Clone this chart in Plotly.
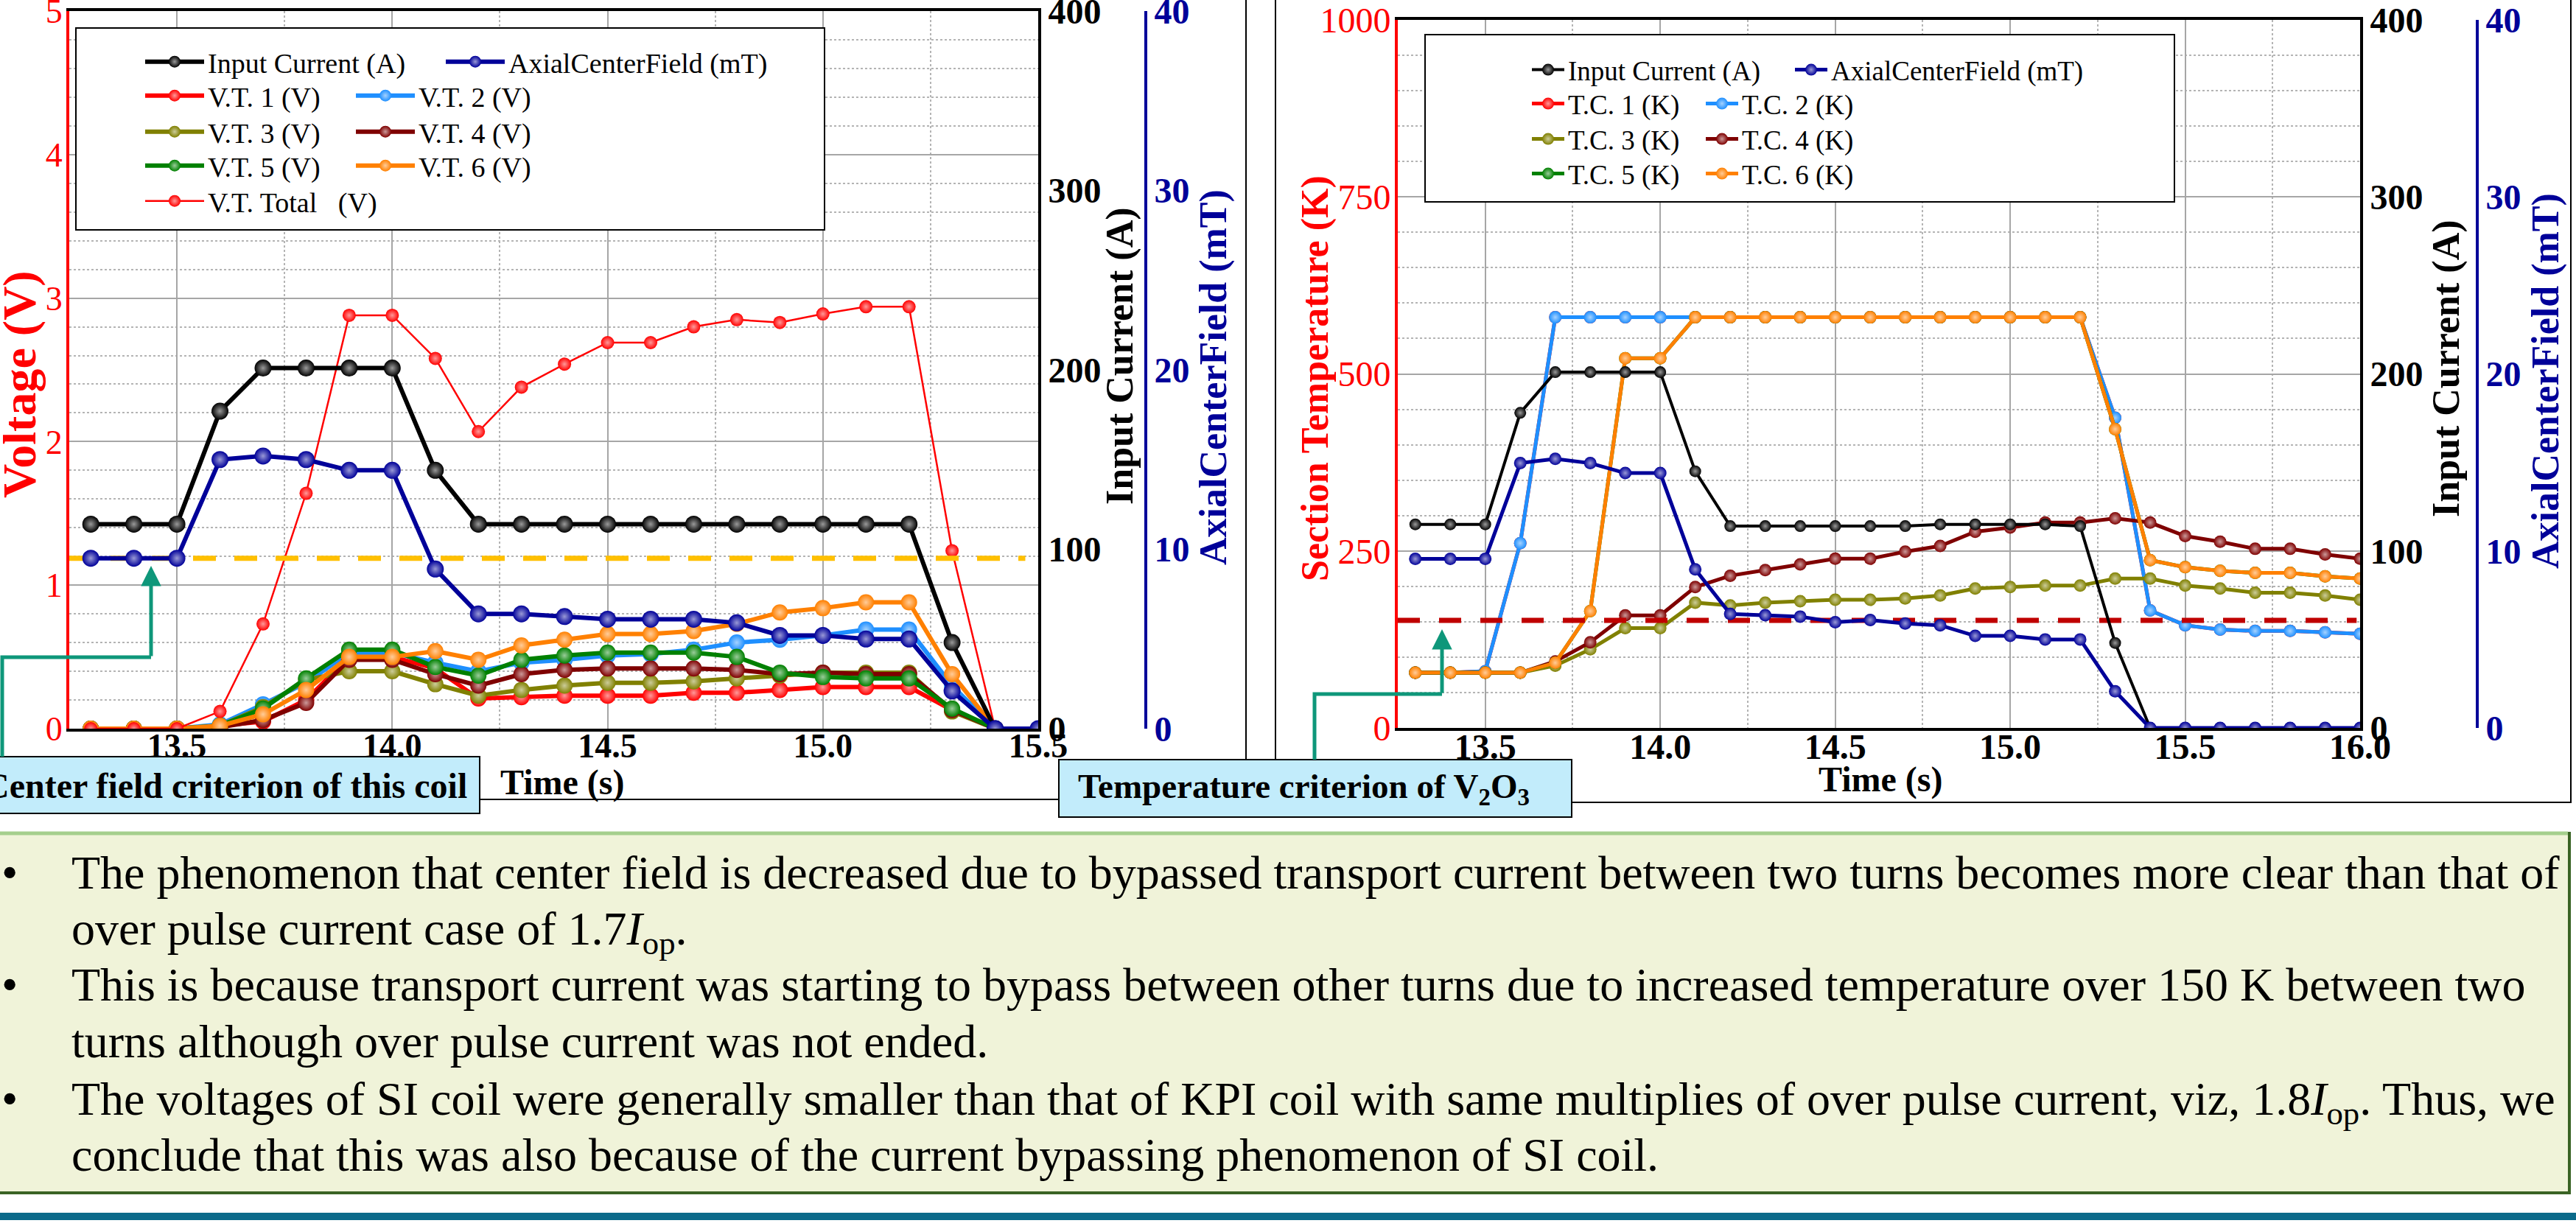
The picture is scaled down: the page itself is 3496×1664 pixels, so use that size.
import plotly.graph_objects as go

W, H = 3496, 1664
def PX(x): return x / W
def PY(y): return 1 - y / H

SERIF = "Liberation Serif"

# ---------------- data: left chart (voltage taps, SI coil) ----------------
time_left = [13.3, 13.4, 13.5, 13.6, 13.7, 13.8, 13.9, 14.0, 14.1, 14.2, 14.3,
             14.4, 14.5, 14.6, 14.7, 14.8, 14.9, 15.0, 15.1, 15.2, 15.3, 15.4]
time_left_field = [13.3, 13.4, 13.5, 13.6, 13.7, 13.8, 13.9, 14.0, 14.1, 14.2, 14.3,
                   14.4, 14.5, 14.6, 14.7, 14.8, 14.9, 15.0, 15.1, 15.2, 15.3, 15.4, 15.5]
current_left = [114, 114, 114, 177, 201, 201, 201, 201, 144, 114, 114,
                114, 114, 114, 114, 114, 114, 114, 114, 114, 48, 0]
field_left = [9.5, 9.5, 9.5, 15.0, 15.2, 15.0, 14.4, 14.4, 8.9, 6.4, 6.4,
              6.25, 6.1, 6.1, 6.1, 5.9, 5.2, 5.2, 5.0, 5.0, 2.1, 0, 0]
vt1 = [0, 0, 0, 0.02, 0.05, 0.2, 0.5, 0.5, 0.42, 0.21, 0.22,
       0.23, 0.23, 0.23, 0.25, 0.25, 0.27, 0.29, 0.29, 0.29, 0.13, 0]
vt2 = [0, 0, 0, 0.03, 0.17, 0.32, 0.53, 0.53, 0.46, 0.40, 0.46,
       0.48, 0.51, 0.52, 0.55, 0.60, 0.62, 0.65, 0.69, 0.69, 0.30, 0]
vt3 = [0, 0, 0, 0.02, 0.15, 0.34, 0.40, 0.40, 0.31, 0.23, 0.27,
       0.30, 0.32, 0.32, 0.33, 0.35, 0.37, 0.39, 0.39, 0.39, 0.12, 0]
vt4 = [0, 0, 0, 0.01, 0.06, 0.18, 0.48, 0.48, 0.38, 0.30, 0.38,
       0.41, 0.42, 0.42, 0.42, 0.41, 0.38, 0.39, 0.38, 0.38, 0.13, 0]
vt5 = [0, 0, 0, 0.02, 0.14, 0.35, 0.55, 0.55, 0.43, 0.37, 0.48,
       0.51, 0.53, 0.53, 0.53, 0.50, 0.39, 0.36, 0.35, 0.35, 0.14, 0]
vt6 = [0, 0, 0, 0.02, 0.10, 0.27, 0.50, 0.50, 0.54, 0.48, 0.58,
       0.62, 0.66, 0.66, 0.68, 0.73, 0.81, 0.84, 0.88, 0.88, 0.38, 0]
vt_total = [0, 0, 0, 0.12, 0.73, 1.64, 2.88, 2.88, 2.58, 2.07, 2.38,
            2.54, 2.69, 2.69, 2.80, 2.85, 2.83, 2.89, 2.94, 2.94, 1.24, 0]
field_criterion_mT = 9.5
field_criterion_span = [13.25, 15.47]

# ---------------- data: right chart (thermocouples) ----------------
time_right = [13.3, 13.4, 13.5, 13.6, 13.7, 13.8, 13.9, 14.0, 14.1, 14.2, 14.3, 14.4, 14.5, 14.6,
              14.7, 14.8, 14.9, 15.0, 15.1, 15.2, 15.3, 15.4, 15.5, 15.6, 15.7, 15.8, 15.9, 16.0]
current_right = [115, 115, 115, 178, 201, 201, 201, 201, 145, 114, 114, 114, 114, 114,
                 114, 115, 115, 115, 115, 114, 48, 0, 0, 0, 0, 0, 0, 0]
field_right = [9.55, 9.55, 9.55, 14.96, 15.2, 14.96, 14.4, 14.4, 8.96, 6.44, 6.37, 6.29, 5.97, 6.1,
               5.9, 5.8, 5.2, 5.2, 5.0, 5.0, 2.07, 0, 0, 0, 0, 0, 0, 0]
tc1 = [78, 78, 80, 261, 580, 580, 580, 580, 580, 580, 580, 580, 580, 580,
       580, 580, 580, 580, 580, 580, 438, 166, 145, 139, 137, 137, 135, 133]
tc2 = [78, 78, 80, 261, 580, 580, 580, 580, 580, 580, 580, 580, 580, 580,
       580, 580, 580, 580, 580, 580, 438, 166, 145, 139, 137, 137, 135, 133]
tc3 = [78, 78, 78, 78, 88, 111, 141, 141, 177, 173, 177, 179, 181, 181,
       183, 187, 197, 199, 201, 201, 211, 211, 201, 197, 191, 191, 187, 181]
tc4 = [78, 78, 78, 78, 94, 121, 159, 159, 199, 215, 223, 231, 239, 239,
       249, 257, 277, 283, 290, 290, 296, 290, 271, 263, 253, 253, 245, 239]
tc5 = [78, 78, 78, 78, 92, 165, 522, 522, 580, 580, 580, 580, 580, 580,
       580, 580, 580, 580, 580, 580, 422, 237, 227, 222, 219, 219, 214, 211]
tc6 = [78, 78, 78, 78, 92, 165, 522, 522, 580, 580, 580, 580, 580, 580,
       580, 580, 580, 580, 580, 580, 422, 237, 227, 222, 219, 219, 214, 211]
temp_criterion_K = 152
temp_criterion_span = [13.25, 15.99]

# ---------------- ticks ----------------
xticks_left = [13.5, 14.0, 14.5, 15.0, 15.5]
xticks_right = [13.5, 14.0, 14.5, 15.0, 15.5, 16.0]
yticks_voltage = [0, 1, 2, 3, 4, 5]
yticks_temp = [0, 250, 500, 750, 1000]
yticks_current = [0, 100, 200, 300, 400]
yticks_field = [0, 10, 20, 30, 40]

# ---------------- text ----------------
paragraph_lines = [
    "The phenomenon that center field is decreased due to bypassed transport current between two turns becomes more clear than that of",
    "over pulse current case of 1.7<i>I</i><sub>op</sub>.",
    "This is because transport current was starting to bypass between other turns due to increased temperature over 150 K between two",
    "turns although over pulse current was not ended.",
    "The voltages of SI coil were generally smaller than that of KPI coil with same multiplies of over pulse current, viz, 1.8<i>I</i><sub>op</sub>. Thus, we",
    "conclude that this was also because of the current bypassing phenomenon of SI coil.",
]
bullet_rows = [0, 2, 4]

# ---------------- colours ----------------
BLACK = "#000000"
NAVY = "#000099"
RED = "#FF0000"
LBLUE = "#1E8FFF"
OLIVE = "#808000"
MAROON = "#7F0000"
GREEN = "#008000"
ORANGE = "#FF8000"
GRID = "#A6A6A6"
MINOR = "#B4B4B4"
TEAL = "#0E977A"


def lighten(hexcol, f=0.6):
    h = hexcol.lstrip("#")
    r, g, b = (int(h[i:i + 2], 16) for i in (0, 2, 4))
    r = int(r + (255 - r) * f); g = int(g + (255 - g) * f); b = int(b + (255 - b) * f)
    return f"#{r:02x}{g:02x}{b:02x}"


fig = go.Figure()


def series(x, y, name, color, xa, ya, legend, lw, ms):
    fig.add_trace(go.Scatter(
        x=x, y=y, name=name, mode="lines+markers", xaxis=xa, yaxis=ya, legend=legend,
        line=dict(color=color, width=lw),
        marker=dict(size=ms, color=color, gradient=dict(type="radial", color=lighten(color))),
        hoverinfo="skip"))


# left chart traces
series(time_left, vt1, "V.T. 1 (V)", RED, "x", "y", "legend3", 6, 22)
series(time_left, vt2, "V.T. 2 (V)", LBLUE, "x", "y", "legend4", 6, 22)
series(time_left, vt3, "V.T. 3 (V)", OLIVE, "x", "y", "legend5", 6, 22)
series(time_left, vt4, "V.T. 4 (V)", MAROON, "x", "y", "legend6", 6, 22)
series(time_left, vt5, "V.T. 5 (V)", GREEN, "x", "y", "legend7", 6, 22)
series(time_left, vt6, "V.T. 6 (V)", ORANGE, "x", "y", "legend8", 6, 22)
fig.add_trace(go.Scatter(x=field_criterion_span, y=[field_criterion_mT] * 2, mode="lines",
                         xaxis="x", yaxis="y3", showlegend=False, hoverinfo="skip",
                         line=dict(color="#FFC000", width=7, dash="31px,25px")))
series(time_left, vt_total, "V.T. Total\u00a0\u00a0\u00a0(V)", RED, "x", "y", "legend9", 2.5, 18)
series(time_left, current_left, "Input Current (A)", BLACK, "x", "y2", "legend", 6, 23)
series(time_left_field, field_left, "AxialCenterField (mT)", NAVY, "x", "y3", "legend2", 6, 23)

# right chart traces
series(time_right, tc1, "T.C. 1 (K)", RED, "x2", "y4", "legend12", 5, 17)
series(time_right, tc2, "T.C. 2 (K)", LBLUE, "x2", "y4", "legend13", 5, 17)
series(time_right, tc3, "T.C. 3 (K)", OLIVE, "x2", "y4", "legend14", 5, 17)
series(time_right, tc4, "T.C. 4 (K)", MAROON, "x2", "y4", "legend15", 5, 17)
series(time_right, tc5, "T.C. 5 (K)", GREEN, "x2", "y4", "legend16", 5, 17)
series(time_right, tc6, "T.C. 6 (K)", ORANGE, "x2", "y4", "legend17", 5, 17)
fig.add_trace(go.Scatter(x=temp_criterion_span, y=[temp_criterion_K] * 2, mode="lines",
                         xaxis="x2", yaxis="y4", showlegend=False, hoverinfo="skip",
                         line=dict(color="#C00000", width=7, dash="30px,26px")))
series(time_right, current_right, "Input Current (A)", BLACK, "x2", "y5", "legend10", 4, 16)
series(time_right, field_right, "AxialCenterField (mT)", NAVY, "x2", "y6", "legend11", 5, 17)

# ---------------- axes ----------------
def xaxis_cfg(domain, rng, ticks, anchor, size):
    return dict(domain=domain, range=rng, anchor=anchor, tickmode="array", tickvals=ticks,
                ticktext=[f"{v:.1f}" for v in ticks], automargin=False,
                ticklabeloverflow="allow", ticklabelstandoff=-20,
                tickfont=dict(family=SERIF, size=size, color="black", weight="bold"),
                showline=True, linecolor="black", linewidth=4, mirror=True, ticks="",
                showgrid=True, gridcolor=GRID, gridwidth=2, zeroline=False,
                minor=dict(tickmode="linear", tick0=13.25, dtick=0.25, showgrid=True,
                           gridcolor=MINOR, griddash="dot", gridwidth=2))


def yleft_cfg(domain, rng, ticks, anchor, minor_dtick, size):
    return dict(domain=domain, range=rng, anchor=anchor, tickmode="array", tickvals=ticks,
                tickfont=dict(family=SERIF, size=size, color=RED), automargin=False,
                ticklabeloverflow="allow", ticklabelstandoff=-4,
                showline=True, linecolor=RED, linewidth=4, ticks="",
                showgrid=True, gridcolor=GRID, gridwidth=2, zeroline=False,
                minor=dict(tickmode="linear", tick0=0, dtick=minor_dtick, showgrid=True,
                           gridcolor=MINOR, griddash="dot", gridwidth=2))


def yright_cfg(over, rng, ticks, color, anchor, position=None):
    d = dict(overlaying=over, side="right", range=rng, tickmode="array", tickvals=ticks,
             tickfont=dict(family=SERIF, size=48, color=color, weight="bold"),
             showline=True, linecolor=color, linewidth=4, ticks="", automargin=False,
             ticklabeloverflow="allow",
             showgrid=False, zeroline=False, anchor=anchor)
    if position is not None:
        d["position"] = position
    return d


fig.update_layout(
    xaxis=xaxis_cfg([PX(94), PX(1409)], [13.25, 15.5], xticks_left, "y", 46),
    yaxis=yleft_cfg([PY(989), PY(15)], [0, 5], yticks_voltage, "x", 0.2, 46),
    yaxis2=yright_cfg("y", [0, 400], yticks_current, BLACK, "x"),
    yaxis3=yright_cfg("y", [0, 40], yticks_field, NAVY, "free", PX(1555)),
    xaxis2=xaxis_cfg([PX(1897), PX(3203)], [13.25, 16.0], xticks_right, "y4", 48),
    yaxis4=yleft_cfg([PY(988), PY(27)], [0, 1000], yticks_temp, "x2", 50, 48),
    yaxis5=yright_cfg("y4", [0, 400], yticks_current, BLACK, "x2"),
    yaxis6=yright_cfg("y4", [0, 40], yticks_field, NAVY, "free", PX(3362)),
)

# ---------------- legends (one per entry, laid out like the original boxes) ----------------
legend_layout = {
    "legend": (284, 84, 80, 38), "legend2": (692, 84, 80, 38),
    "legend3": (284, 130, 80, 38), "legend4": (570, 130, 80, 38),
    "legend5": (284, 179, 80, 38), "legend6": (570, 179, 80, 38),
    "legend7": (284, 225, 80, 38), "legend8": (570, 225, 80, 38),
    "legend9": (284, 273, 80, 38),
    "legend10": (2130, 95, 44, 37), "legend11": (2487, 95, 44, 37),
    "legend12": (2130, 141, 44, 37), "legend13": (2366, 141, 44, 37),
    "legend14": (2130, 189, 44, 37), "legend15": (2366, 189, 44, 37),
    "legend16": (2130, 236, 44, 37), "legend17": (2366, 236, 44, 37),
}
for key, (tx, cy, iw, fs) in legend_layout.items():
    fig.update_layout({key: dict(x=PX(tx - iw - 12), y=PY(cy), xanchor="left", yanchor="middle",
                                 orientation="h", bgcolor="rgba(0,0,0,0)", borderwidth=0,
                                 itemwidth=iw, font=dict(family=SERIF, size=fs, color="black"))})

# ---------------- shapes ----------------
shapes = []
def rect(x0, y0, x1, y1, fill="rgba(0,0,0,0)", line="black", lw=2, layer="above"):
    shapes.append(dict(type="rect", xref="paper", yref="paper", x0=PX(x0), x1=PX(x1),
                       y0=PY(y1), y1=PY(y0), fillcolor=fill, line=dict(color=line, width=lw),
                       layer=layer))

rect(-10, -10, 1691, 1085, layer="below")              # left picture frame
rect(1731, -10, 3489, 1089, layer="below")             # right picture frame
rect(103, 38, 1119, 312, fill="white")                 # left legend box
rect(1934, 47, 2951, 274, fill="white")                # right legend box
rect(-10, 1027, 651, 1104, fill="#C2ECFB")             # criterion boxes
rect(1437, 1031, 2133, 1109, fill="#C2ECFB")
rect(-10, 1131, 3487, 1619, fill="#F0F3D9", line="#3A6324", lw=4)   # text panel
shapes.append(dict(type="line", xref="paper", yref="paper", x0=PX(-10), x1=PX(3485),
                   y0=PY(1131), y1=PY(1131), line=dict(color="#A5CF8D", width=5)))
rect(-10, 1646, 3506, 1656, fill="#0B6A8A", line="#0B6A8A", lw=0)   # footer stripe

def poly(points):
    d = "M " + " L ".join(f"{PX(x)},{PY(y)}" for x, y in points)
    shapes.append(dict(type="path", xref="paper", yref="paper", path=d,
                       line=dict(color=TEAL, width=5), layer="above"))

poly([(3, 1027), (3, 892), (205, 892)])
poly([(1784, 1031), (1784, 942), (1957, 942)])
fig.update_layout(shapes=shapes)

# ---------------- annotations ----------------
ann = []
def text(x, y, s, size, color="black", bold=False, angle=0, xanchor="center", yanchor="middle"):
    ann.append(dict(xref="paper", yref="paper", x=PX(x), y=PY(y), text=s, showarrow=False,
                    textangle=angle, xanchor=xanchor, yanchor=yanchor,
                    font=dict(family=SERIF, size=size, color=color,
                              weight="bold" if bold else "normal")))

# axis titles
text(26, 522, "Voltage (V)", 64, RED, True, -90)
text(1520, 483, "Input Current (A)", 52, BLACK, True, -90)
text(1647, 512, "AxialCenterField (mT)", 52, NAVY, True, -90)
text(763, 1062, "Time (s)", 48, BLACK, True)
text(1785, 514, "Section Temperature (K)", 52, RED, True, -90)
text(3320, 500, "Input Current (A)", 52, BLACK, True, -90)
text(3455, 517, "AxialCenterField (mT)", 52, NAVY, True, -90)
text(2552, 1058, "Time (s)", 48, BLACK, True)

# criterion boxes
text(306, 1066, "Center field criterion of this coil", 48, BLACK, True)
text(1770, 1070, "Temperature criterion of V<sub>2</sub>O<sub>3</sub>", 47, BLACK, True)

# arrows
for (x, y0, y1) in [(205, 892, 768), (1957, 942, 854)]:
    ann.append(dict(xref="paper", yref="paper", x=PX(x), y=PY(y1), ax=0, ay=y0 - y1,
                    axref="pixel", ayref="pixel", text="", showarrow=True, arrowhead=2,
                    arrowsize=1.1, arrowwidth=5, arrowcolor=TEAL, standoff=0, startstandoff=0))

# paragraph
baselines = [1207, 1283, 1359, 1436, 1514, 1590]
for i, (line, b) in enumerate(zip(paragraph_lines, baselines)):
    text(95, b - 60, line, 64, BLACK, False, 0, "left", "top")
    if i in bullet_rows:
        text(0, b - 60, "•", 64, BLACK, False, 0, "left", "top")

fig.update_layout(
    annotations=ann,
    width=W, height=H, margin=dict(l=0, r=0, t=0, b=0, autoexpand=False),
    paper_bgcolor="white", plot_bgcolor="white",
    font=dict(family=SERIF), hovermode=False,
)

fig.write_html("out.html")
